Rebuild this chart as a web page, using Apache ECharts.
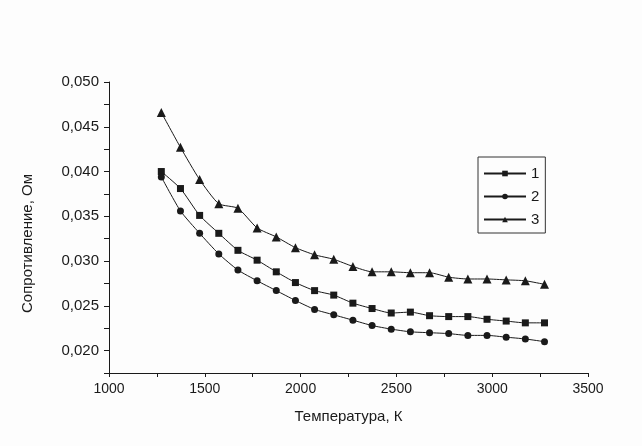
<!DOCTYPE html>
<html>
<head>
<meta charset="utf-8">
<script src="https://cdn.jsdelivr.net/npm/echarts@6/dist/echarts.min.js"></script>
<style>html,body{margin:0;padding:0;background:#fdfdfd;}#c{width:642px;height:446px;}</style>
</head>
<body>
<div id="c"></div>
<script>
const temperatures = [1273,1373,1473,1573,1673,1773,1873,1973,2073,2173,2273,2373,2473,2573,2673,2773,2873,2973,3073,3173,3273];
const series1 = [0.0400,0.0381,0.0351,0.0331,0.0312,0.0301,0.0288,0.0276,0.0267,0.0262,0.0253,0.0247,0.0242,0.0243,0.0239,0.0238,0.0238,0.0235,0.0233,0.0231,0.0231];
const series2 = [0.0394,0.0356,0.0331,0.0308,0.0290,0.0278,0.0267,0.0256,0.0246,0.0240,0.0234,0.0228,0.0224,0.0221,0.0220,0.0219,0.0217,0.0217,0.0215,0.0213,0.0210];
const series3 = [0.0466,0.0427,0.0391,0.0364,0.0359,0.0337,0.0327,0.0315,0.0307,0.0302,0.0294,0.0288,0.0288,0.0287,0.0287,0.0282,0.0280,0.0280,0.0279,0.0278,0.0274];
const seriesNames = ['1','2','3'];
const xLabelValues = [1000,1500,2000,2500,3000,3500];
const yLabelValues = [0.020,0.025,0.030,0.035,0.040,0.045,0.050];

const pairs = arr => temperatures.map((t,i)=>[t,arr[i]]);
const font = 'Liberation Sans, Arial, sans-serif';
const ink = '#1a1a1a';
function mk(name, data, symbol, size){
  return {name, type:'line', data:pairs(data), symbol, symbolSize:size, smooth:0.2,
    lineStyle:{color:ink,width:1}, itemStyle:{color:ink}, z:3};
}
const chart = echarts.init(document.getElementById('c'));
chart.setOption({
  backgroundColor:'#fdfdfd',
  animation:false,
  grid:{left:109,right:54,top:82,bottom:73},
  legend:{
    left:478, top:157, orient:'vertical',
    itemWidth:42, itemHeight:7, itemGap:8,
    padding:[9,6,6,5],
    borderColor:'#333', borderWidth:1,
    textStyle:{fontFamily:font,fontSize:15,color:ink,lineHeight:15},
    data:seriesNames
  },
  xAxis:{
    type:'value', min:1000, max:3500, interval:250,
    name:'Температура, К', nameLocation:'middle', nameGap:36,
    nameTextStyle:{fontFamily:font,fontSize:15,color:ink},
    axisLine:{lineStyle:{color:ink,width:1}},
    axisTick:{length:4,lineStyle:{color:ink}},
    splitLine:{show:false},
    axisLabel:{fontFamily:font,fontSize:14,color:ink,margin:9,
      formatter:v=>xLabelValues.includes(Math.round(v))?String(Math.round(v)):''}
  },
  yAxis:{
    type:'value', min:0.0175, max:0.050, interval:0.0025,
    name:'Сопротивление, Ом', nameLocation:'middle', nameGap:74,
    nameTextStyle:{fontFamily:font,fontSize:15,color:ink,padding:[0,32,0,0]},
    axisLine:{show:true,lineStyle:{color:ink,width:1}},
    axisTick:{show:true,length:5,lineStyle:{color:ink}},
    splitLine:{show:false},
    axisLabel:{fontFamily:font,fontSize:15,color:ink,margin:10,
      formatter:v=>{const m=yLabelValues.find(y=>Math.abs(y-v)<1e-7);return m===undefined?'':m.toFixed(3).replace('.',',');}}
  },
  series:[mk(seriesNames[0],series1,'rect',7), mk(seriesNames[1],series2,'circle',7), mk(seriesNames[2],series3,'triangle',9)]
});
</script>
</body>
</html>
